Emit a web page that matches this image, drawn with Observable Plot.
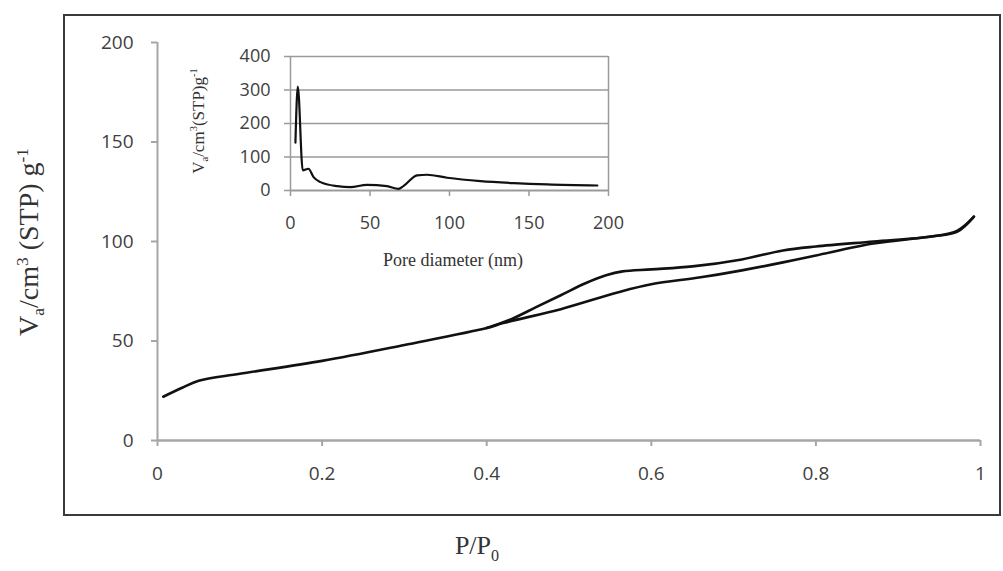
<!DOCTYPE html>
<html>
<head>
<meta charset="utf-8">
<script src="https://cdn.jsdelivr.net/npm/d3@7"></script>
<script src="https://cdn.jsdelivr.net/npm/@observablehq/plot@0.6"></script>
<style>
  html, body { margin: 0; padding: 0; background: #fff; }
  #wrap { position: relative; width: 1003px; height: 571px; overflow: hidden; background: #fff; }
  #box { position: absolute; left: 63px; top: 14px; width: 934px; height: 498px; border: 2px solid #3a3a3a; }
  .abs { position: absolute; }
  .ttl { font-family: "Liberation Serif", "Times New Roman", serif; color: #333; white-space: nowrap; }
  .ttl sub, .ttl sup { font-size: 0.62em; }
</style>
</head>
<body>
<div id="wrap">
  <div id="box"></div>
  <div id="main" class="abs" style="left:0;top:0"></div>
  <div id="inset" class="abs" style="left:180px;top:40px"></div>
  <div id="ytitle" class="abs ttl" style="font-size:28px;left:31px;top:242px;transform:translate(-50%,-50%) rotate(-90deg)">V<sub>a</sub>/cm<sup>3</sup> (STP) g<sup>-1</sup></div>
  <div id="xtitle" class="abs ttl" style="font-size:26px;left:477px;top:548px;transform:translate(-50%,-50%)">P/P<sub>0</sub></div>
  <div id="ixtitle" class="abs ttl" style="font-size:18px;left:453px;top:260px;transform:translate(-50%,-50%)">Pore diameter (nm)</div>
  <div id="iytitle" class="abs ttl" style="font-size:17px;left:199px;top:121px;transform:translate(-50%,-50%) rotate(-90deg)">V<sub>a</sub>/cm<sup>3</sup>(STP)g<sup>-1</sup></div>
</div>
<script>
// Adsorption branch (relative pressure P/P0, adsorbed volume)
const adsP = [0.007, 0.03, 0.05, 0.1, 0.2, 0.3, 0.4, 0.42, 0.49, 0.56, 0.6, 0.66, 0.71, 0.76, 0.8, 0.87, 0.94, 0.972, 0.992];
const adsV = [22, 26.5, 30, 33.5, 40, 48, 56.5, 59, 66, 74.5, 78.5, 82, 85.5, 89.5, 93, 99, 102.5, 105, 112.5];
// Desorption branch
const desP = [0.40, 0.43, 0.46, 0.49, 0.52, 0.545, 0.565, 0.6, 0.65, 0.71, 0.76, 0.8, 0.87, 0.94, 0.972, 0.992];
const desV = [56.5, 61, 67, 73, 79, 83, 85, 86, 87.5, 91, 95.5, 97.5, 100, 102.5, 105.5, 112.5];
// Inset: pore size distribution
const poreD = [3.1, 4.6, 7.7, 11.3, 14.5, 18.9, 29.4, 37.7, 48, 60.7, 68, 71, 79.6, 85.9, 98.5, 119.5, 140.5, 161.5, 193];
const poreV = [143, 310, 60, 65, 40, 25, 13, 10, 17, 13, 5, 13, 45, 47, 38, 28, 22, 18, 15];

const xTicks = [0, 0.2, 0.4, 0.6, 0.8, 1];
const xTickLabels = ["0", "0.2", "0.4", "0.6", "0.8", "1"];
const yTicks = [0, 50, 100, 150, 200];
const insetXTicks = [0, 50, 100, 150, 200];
const insetYTicks = [0, 100, 200, 300, 400];

const ads = adsP.map((p, i) => ({p, v: adsV[i]}));
const des = desP.map((p, i) => ({p, v: desV[i]}));
const pore = poreD.map((d, i) => ({d, v: poreV[i]}));

const axisGray = "#a6a6a6";
const textGray = "#404040";

const main = Plot.plot({
  width: 1003, height: 571,
  marginLeft: 157, marginRight: 23, marginTop: 42, marginBottom: 131,
  style: {fontFamily: "'Open Sans', sans-serif", fontSize: "19px", color: textGray, background: "transparent", overflow: "visible"},
  x: {domain: [0, 1]},
  y: {domain: [0, 200]},
  marks: [
    Plot.axisX({ticks: xTicks, tickFormat: (d, i) => xTickLabels[i], tickSize: 6, tickPadding: 20, stroke: axisGray, strokeWidth: 2, fill: textGray, label: null}),
    Plot.axisY({ticks: yTicks, tickSize: 6, tickPadding: 18, stroke: axisGray, strokeWidth: 2, fill: textGray, label: null}),
    Plot.ruleX([0], {stroke: axisGray, strokeWidth: 2}),
    Plot.ruleY([0], {stroke: axisGray, strokeWidth: 2.5}),
    Plot.line(ads, {x: "p", y: "v", curve: "catmull-rom", stroke: "#111", strokeWidth: 2.6}),
    Plot.line(des, {x: "p", y: "v", curve: "catmull-rom", stroke: "#111", strokeWidth: 2.6})
  ]
});
document.getElementById("main").appendChild(main);

const inset = Plot.plot({
  width: 440, height: 240,
  marginLeft: 110, marginRight: 12, marginTop: 16, marginBottom: 90,
  style: {fontFamily: "'Open Sans', sans-serif", fontSize: "18px", color: textGray, background: "transparent", overflow: "visible"},
  x: {domain: [0, 200]},
  y: {domain: [0, 400]},
  marks: [
    Plot.ruleY(insetYTicks.slice(1), {stroke: "#9a9a9a", strokeWidth: 1.5}),
    Plot.ruleX([0, 200], {stroke: "#9a9a9a", strokeWidth: 1.5}),
    Plot.axisX({ticks: insetXTicks, tickSize: 6, tickPadding: 20, stroke: "#9a9a9a", strokeWidth: 1.5, fill: textGray, label: null}),
    Plot.axisY({ticks: insetYTicks, tickSize: 6, tickPadding: 14, stroke: "#9a9a9a", strokeWidth: 1.5, fill: textGray, label: null}),
    Plot.ruleY([0], {stroke: "#9a9a9a", strokeWidth: 2}),
    Plot.line(pore, {x: "d", y: "v", curve: "monotone-x", stroke: "#111", strokeWidth: 2.2})
  ]
});
document.getElementById("inset").appendChild(inset);
</script>
</body>
</html>
